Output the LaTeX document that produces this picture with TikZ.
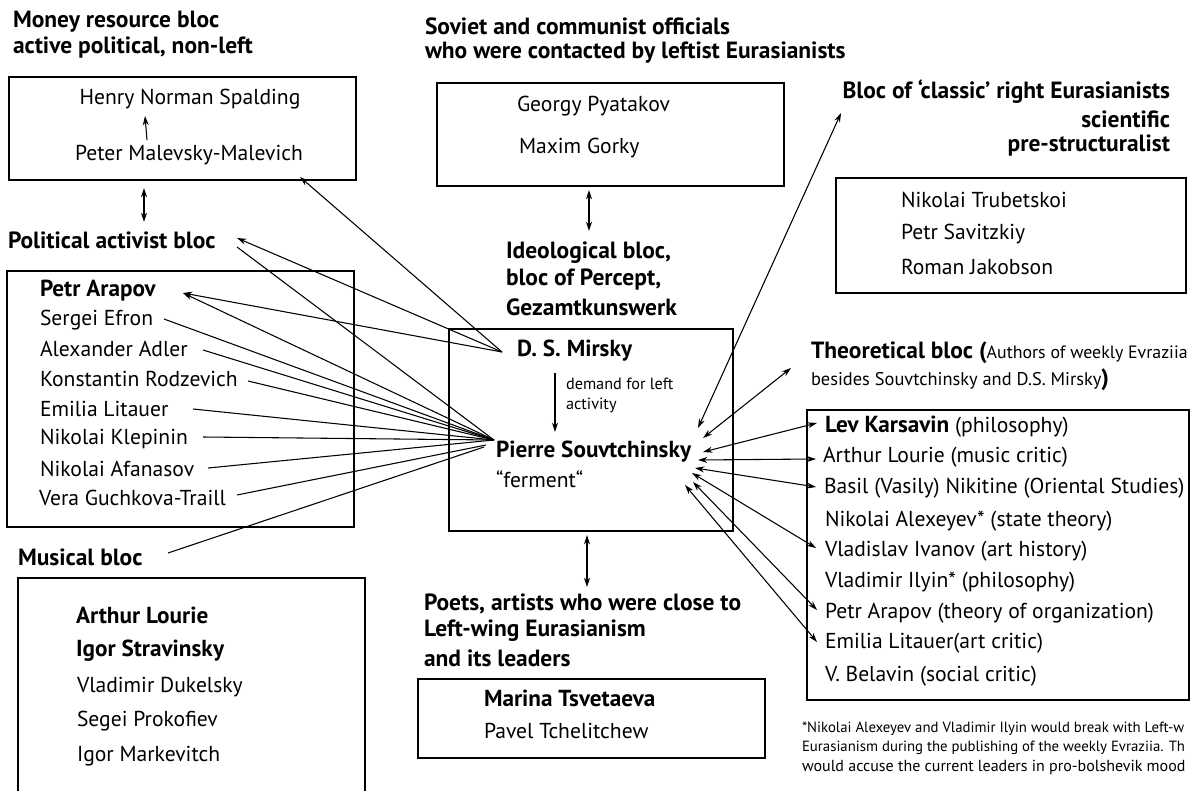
\documentclass[tikz,border=0pt]{standalone}
\usepackage{fontspec}
\setmainfont{PT Sans}
\usetikzlibrary{arrows.meta}
\begin{document}
\begin{tikzpicture}[x=0.75pt,y=-0.75pt,
  every node/.style={inner sep=0pt, outer sep=0pt},
  txt/.style={anchor=west, font=\fontsize{16.2}{19}\selectfont},
  ctxt/.style={anchor=center, font=\fontsize{16.2}{19}\selectfont},
  hd/.style={anchor=west, font=\fontsize{17.6}{21}\selectfont\bfseries},
  nb/.style={anchor=west, font=\fontsize{17.4}{21}\selectfont\bfseries},
  sm/.style={anchor=west, font=\fontsize{12.2}{14}\selectfont},
  fn/.style={anchor=west, font=\fontsize{11.1}{14}\selectfont},
  box/.style={draw, line width=1pt, anchor=north west},
  con/.style={line width=0.8pt},
  arr/.style={con, -{Stealth[length=7pt,width=4.5pt]}},
  darr/.style={con, {Stealth[length=7pt,width=4.5pt]}-{Stealth[length=7pt,width=4.5pt]}},
]
\useasboundingbox (0,0) rectangle (1195,791);
\clip (0,0) rectangle (1195,791);
\fill[white] (0,0) rectangle (1195,791);

% ---------- boxes ----------
\node[box, minimum width=347*0.75pt, minimum height=103*0.75pt] (b1) at (9,77) {};
\node[box, minimum width=347*0.75pt, minimum height=256*0.75pt] (b2) at (7,271) {};
\node[box, minimum width=347*0.75pt, minimum height=240*0.75pt] (b3) at (18,578) {};
\node[box, minimum width=347*0.75pt, minimum height=103*0.75pt] (b4) at (437,83) {};
\node[box, minimum width=284*0.75pt, minimum height=202*0.75pt] (b5) at (449,329) {};
\node[box, minimum width=347*0.75pt, minimum height=79*0.75pt] (b6) at (418,679) {};
\node[box, minimum width=350*0.75pt, minimum height=115*0.75pt] (b7) at (836,178) {};
\node[box, minimum width=382*0.75pt, minimum height=290*0.75pt] (b8) at (807,410) {};

% ---------- money resource bloc ----------
\node[hd] (h1a) at (13,22) {Money resource bloc};
\node[hd] (h1b) at (13,48) {active political, non-left};
\node[ctxt] (spalding) at (190,99) {Henry Norman Spalding};
\node[ctxt] (malevich) at (189,155) {Peter Malevsky-Malevich};
\coordinate (sp1) at (147,140);
\coordinate (sp2) at (145,116);
\draw[arr] (sp1) -- (sp2);

\coordinate (d1a) at (144,188);
\coordinate (d1b) at (144,222);
\draw[darr] (d1a) -- (d1b);

% ---------- political activist bloc ----------
\node[hd] (h2) at (8,240) {Political activist bloc};
\node[nb] (arapov) at (40,291) {Petr Arapov};
\node[txt] (efron) at (40,320) {Sergei Efron};
\node[txt] (adler) at (40,349) {Alexander Adler};
\node[txt] (rodz) at (40,379) {Konstantin Rodzevich};
\node[txt] (litauer) at (40,409) {Emilia Litauer};
\node[txt] (klepinin) at (40,439) {Nikolai Klepinin};
\node[txt] (afanasov) at (40,469) {Nikolai Afanasov};
\node[txt] (vera) at (39,498) {Vera Guchkova-Traill};

% ---------- musical bloc ----------
\node[hd] (h3) at (18,557) {Musical bloc};
\node[nb] (lourie) at (76,615) {Arthur Lourie};
\node[nb] (strav) at (76,651) {Igor Stravinsky};
\node[txt] (dukel) at (77,687) {Vladimir Dukelsky};
\node[txt] (prok) at (77,721) {Segei Prokofiev};
\node[txt] (mark) at (77,756) {Igor Markevitch};

% ---------- soviet officials ----------
\node[hd] (h4a) at (425,26) {Soviet and communist officials};
\node[hd] (h4b) at (425,53) {who were contacted by leftist Eurasianists};
\node[txt] (pyat) at (517,106) {Georgy Pyatakov};
\node[txt] (gorky) at (519,148) {Maxim Gorky};
\coordinate (d2a) at (589,190);
\coordinate (d2b) at (589,231);
\draw[darr] (d2a) -- (d2b);

% ---------- ideological bloc ----------
\node[hd] (h5a) at (506,253) {Ideological bloc,};
\node[hd] (h5b) at (506,280) {bloc of Percept,};
\node[hd] (h5c) at (506,307) {Gezamtkunswerk};
\node[nb] (mirsky) at (517,351) {D. S. Mirsky};
\node[sm] (dem1) at (566,384) {demand for left};
\node[sm] (dem2) at (566,405) {activity};
\node[nb] (souv) at (496,452) {Pierre Souvtchinsky};
\node[txt] (ferm) at (496,479) {“ferment“};
\coordinate (ma) at (555,373);
\coordinate (mb) at (555,432);
\draw[arr] (ma) -- (mb);

\coordinate (M) at (502,352);
\coordinate (S) at (494,440);

% ---------- poets ----------
\coordinate (d3a) at (587,535);
\coordinate (d3b) at (587,587);
\draw[darr] (d3a) -- (d3b);
\node[hd] (h6a) at (424,604) {Poets, artists who were close to};
\node[hd] (h6b) at (424,631) {Left-wing Eurasianism};
\node[hd] (h6c) at (424,658) {and its leaders};
\node[nb] (tsvet) at (484,698) {Marina Tsvetaeva};
\node[txt] (tchel) at (484,731) {Pavel Tchelitchew};

% ---------- classic right bloc ----------
\node[hd, anchor=east] (h7a) at (1170,92) {Bloc of ‘classic’ right Eurasianists};
\node[hd, anchor=east] (h7b) at (1170,119) {scientific};
\node[hd, anchor=east] (h7c) at (1170,146) {pre-structuralist};
\node[txt] (trub) at (901,200) {Nikolai Trubetskoi};
\node[txt] (sav) at (901,234) {Petr Savitzkiy};
\node[txt] (jak) at (901,267) {Roman Jakobson};

% ---------- theoretical bloc ----------
\node[anchor=west] (h8a) at (811,353) {\fontsize{17.6}{21}\selectfont\bfseries Theoretical bloc (\fontsize{13.4}{16}\selectfont\mdseries Authors of weekly Evraziia};
\node[anchor=west] (h8b) at (811,380) {\fontsize{13.8}{16}\selectfont besides Souvtchinsky and D.S. Mirsky\fontsize{17.6}{21}\selectfont\bfseries )};
\node[txt] (kars) at (825,427) {{\fontsize{17.4}{21}\selectfont\bfseries Lev Karsavin} (philosophy)};
\node[txt] (lour2) at (823,457) {Arthur Lourie (music critic)};
\node[txt] (nik) at (824,488) {Basil (Vasily) Nikitine (Oriental Studies)};
\node[txt] (alex) at (825,521) {Nikolai Alexeyev* (state theory)};
\node[txt] (ivan) at (825,551) {Vladislav Ivanov (art history)};
\node[txt] (ilyin) at (825,582) {Vladimir Ilyin* (philosophy)};
\node[txt] (arap2) at (825,613) {Petr Arapov (theory of organization)};
\node[txt] (lit2) at (825,643) {Emilia Litauer(art critic)};
\node[txt] (bel) at (825,676) {V. Belavin (social critic)};

\node[fn] (fn1) at (802,729) {*Nikolai Alexeyev and Vladimir Ilyin would break with Left-w};
\node[fn] (fn2) at (802,748) {Eurasianism during the publishing of the weekly Evraziia. Th};
\node[fn, font=\fontsize{12}{14}\selectfont] (fn3) at (802,767) {would accuse the current leaders in pro-bolshevik mood};

% ---------- connectors from Mirsky ----------
\coordinate (tmal) at (300,177);
\coordinate (tpol) at (237,238);
\coordinate (tarap) at (183,293);
\draw[arr] (M) -- (tmal);
\draw[arr] (M) -- (tpol);
\draw[arr] (M) -- (tarap);

% ---------- connectors to Souvtchinsky ----------
\coordinate (spol) at (237,247);
\coordinate (sefron) at (164,319);
\coordinate (sadler) at (203,350);
\coordinate (srodz) at (248,381);
\coordinate (slit) at (193,409);
\coordinate (sklep) at (203,437);
\coordinate (safan) at (208,468);
\coordinate (svera) at (237,495);
\coordinate (smus) at (168,553);
\coordinate (S2) at (486,445);
\coordinate (S3) at (484,447);
\draw[con] (spol) -- (S);
\draw[arr] (S) -- (tarap);
\draw[con] (sefron) -- (S);
\draw[con] (sadler) -- (S);
\draw[con] (srodz) -- (S);
\draw[con] (slit) -- (S);
\draw[con] (sklep) -- (S);
\draw[con] (safan) -- (S);
\draw[con] (svera) -- (S2);
\draw[con] (smus) -- (S3);

% ---------- right-hand connectors ----------
\coordinate (rc1) at (698,428);  \coordinate (rc2) at (841,113);
\coordinate (rt1) at (703,438);  \coordinate (rt2) at (791,368);
\coordinate (rl1) at (703,452);  \coordinate (rl2) at (817,423);
\coordinate (ra1) at (698,460);  \coordinate (ra2) at (816,459);
\coordinate (rb1) at (695,468);  \coordinate (rb2) at (816,487);
\coordinate (rv1) at (692,473);  \coordinate (rv2) at (816,548);
\coordinate (rp1) at (693,482);  \coordinate (rp2) at (817,610);
\coordinate (re1) at (685,485);  \coordinate (re2) at (817,642);
\draw[darr] (rc1) -- (rc2);
\draw[darr] (rt1) -- (rt2);
\draw[darr] (rl1) -- (rl2);
\draw[darr] (ra1) -- (ra2);
\draw[darr] (rb1) -- (rb2);
\draw[darr] (rv1) -- (rv2);
\draw[darr] (rp1) -- (rp2);
\draw[darr] (re1) -- (re2);
\end{tikzpicture}
\end{document}
